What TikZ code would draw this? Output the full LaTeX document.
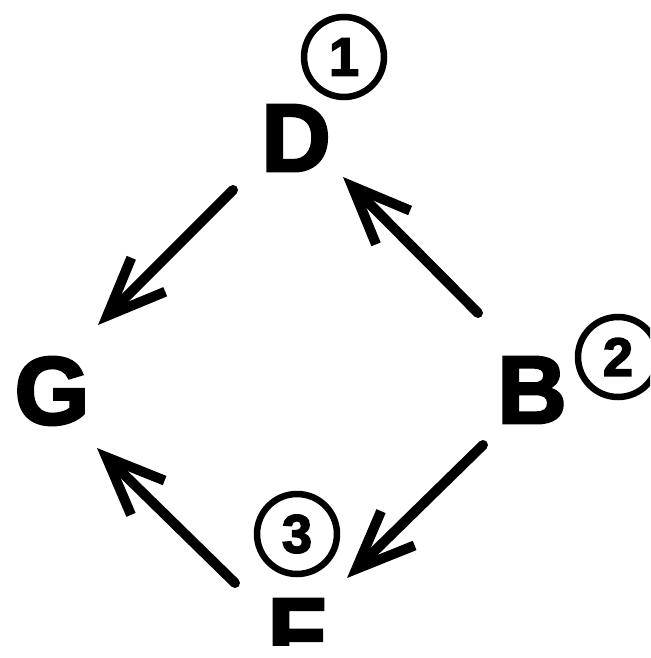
\documentclass[tikz,border=0pt]{standalone}
\usepackage{fontspec}
\usetikzlibrary{arrows.meta,calc}
\newfontfamily\heavy{Liberation Sans Bold}[FakeBold=3]
\begin{document}
\begin{tikzpicture}[x=1pt,y=-1pt,
  letter/.style={font=\heavy\fontsize{96}{96}\selectfont, inner sep=0pt},
  numcirc/.style={circle, draw, line width=6.5pt, minimum size=80pt, inner sep=0pt,
    font=\heavy\fontsize{54}{54}\selectfont},
  arr/.style={line width=10pt, line cap=round,
    -{Straight Barb[length=58pt,width=48pt]}}]
\useasboundingbox (0,0) rectangle (650,658);
\clip (0,0) rectangle (650,658);

% vertices
\node[letter] (D) at (296,138) {D};
\node[letter] (G) at (52,391) {G};
\node[letter] (B) at (532,390) {B};
\begin{scope}
  \clip (0,0) rectangle (650,645);
  \node[letter] (F) at (297,632) {F};
\end{scope}

% visiting order
\node[numcirc] (n1) at (344,57) {1};
\node[numcirc] (n2) at (618,357) {2};
\node[numcirc] (n3) at (297,534) {3};

% edges
\draw[arr] ($(D)+(-63,52)$) -- ($(G)+(46,-66)$);
\draw[arr] ($(B)+(-54,-77)$) -- ($(D)+(47,39)$);
\draw[arr] ($(B)+(-49,55)$) -- ($(F)+(50,-54)$);
\draw[arr] ($(F)+(-62,-49)$) -- ($(G)+(45,57)$);
\end{tikzpicture}
\end{document}
